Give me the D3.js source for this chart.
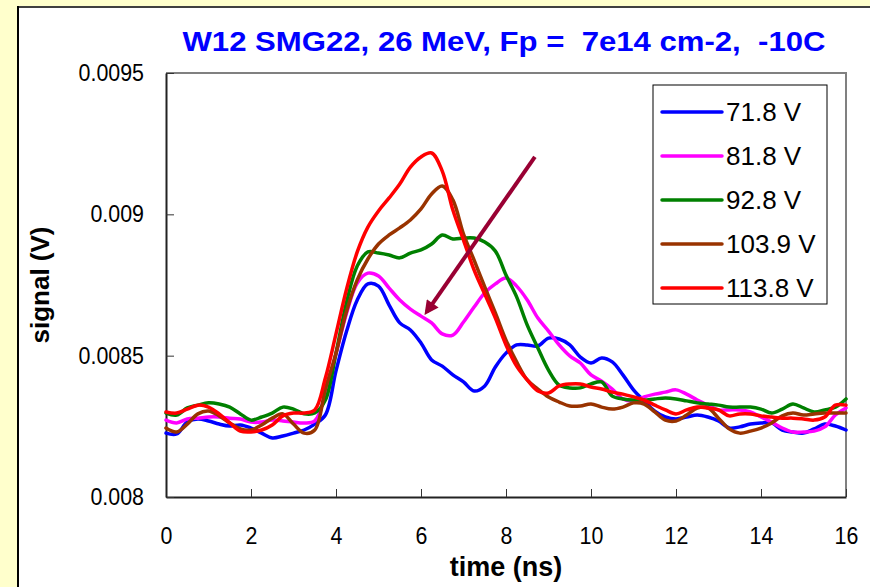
<!DOCTYPE html>
<html lang="en">
<head>
<meta charset="UTF-8">
<title>W12 SMG22 signal vs time</title>
<style>
  body { margin: 0; background: #FFFFCC; }
  svg { display: block; font-family: Arial, "Liberation Sans", sans-serif; }
</style>
</head>
<body>
<script src="https://cdn.jsdelivr.net/npm/d3@7"></script>
<script>
    const width = 870, height = 587;
    const margin = ({top: 73, right: 24, bottom: 90, left: 166});

    const title = "W12 SMG22, 26 MeV, Fp =  7e14 cm-2,  -10C";
    const seriesNames = ["71.8 V", "81.8 V", "92.8 V", "103.9 V", "113.8 V"];
    const colors = ["#0000FF", "#FF00FF", "#008000", "#993300", "#FF0000"];
    const xTicks = [0, 2, 4, 6, 8, 10, 12, 14, 16];
    const yTicks = [0.008, 0.0085, 0.009, 0.0095];

    // sampled every 0.25 ns, 0 .. 16 ns
    const time = d3.range(0, 16.001, 0.25);

    const v718 = [0.008226,0.008223,0.008265,0.008276,0.008269,0.008258,0.008251,0.008255,0.008244,0.008226,0.008209,0.008216,0.008226,0.008237,0.008258,0.008290,
        0.008446,0.008587,0.008697,0.008754,0.008746,0.008679,0.008616,0.008591,0.008545,0.008485,0.008463,0.008432,0.008407,0.008375,0.008393,0.008460,
        0.008509,0.008538,0.008538,0.008534,0.008562,0.008559,0.008538,0.008495,0.008474,0.008492,0.008478,0.008432,0.008379,0.008340,0.008304,0.008283,
        0.008276,0.008283,0.008290,0.008283,0.008269,0.008244,0.008248,0.008258,0.008262,0.008262,0.008237,0.008230,0.008226,0.008241,0.008258,0.008251,0.008237];
    const v818 = [0.008272,0.008262,0.008276,0.008279,0.008283,0.008283,0.008279,0.008276,0.008265,0.008265,0.008272,0.008269,0.008265,0.008262,0.008269,0.008364,
        0.008506,0.008651,0.008757,0.008792,0.008782,0.008739,0.008697,0.008665,0.008640,0.008616,0.008577,0.008573,0.008619,0.008672,0.008722,0.008754,
        0.008775,0.008746,0.008697,0.008633,0.008587,0.008538,0.008499,0.008474,0.008432,0.008410,0.008382,0.008347,0.008340,0.008354,0.008364,0.008371,
        0.008379,0.008364,0.008343,0.008325,0.008308,0.008308,0.008308,0.008301,0.008283,0.008265,0.008244,0.008230,0.008230,0.008233,0.008248,0.008290,0.008315];
    const v928 = [0.008297,0.008290,0.008315,0.008325,0.008333,0.008329,0.008318,0.008294,0.008272,0.008283,0.008297,0.008318,0.008311,0.008294,0.008297,0.008343,
        0.008509,0.008690,0.008817,0.008867,0.008863,0.008856,0.008846,0.008863,0.008874,0.008895,0.008927,0.008913,0.008916,0.008916,0.008902,0.008870,
        0.008785,0.008708,0.008608,0.008527,0.008449,0.008396,0.008386,0.008386,0.008400,0.008407,0.008357,0.008347,0.008343,0.008343,0.008347,0.008350,
        0.008347,0.008340,0.008333,0.008329,0.008325,0.008318,0.008318,0.008318,0.008311,0.008297,0.008311,0.008329,0.008315,0.008301,0.008308,0.008318,0.008347];
    const v1039 = [0.008244,0.008230,0.008258,0.008294,0.008304,0.008287,0.008262,0.008241,0.008237,0.008255,0.008279,0.008294,0.008258,0.008226,0.008237,0.008382,
        0.008509,0.008658,0.008768,0.008842,0.008895,0.008927,0.008952,0.008980,0.009019,0.009072,0.009100,0.009051,0.008930,0.008838,0.008743,0.008651,
        0.008555,0.008478,0.008414,0.008382,0.008354,0.008336,0.008322,0.008322,0.008329,0.008318,0.008311,0.008318,0.008333,0.008329,0.008301,0.008272,
        0.008269,0.008290,0.008315,0.008315,0.008279,0.008241,0.008226,0.008233,0.008244,0.008262,0.008287,0.008297,0.008290,0.008294,0.008297,0.008297,0.008297];
    const v1138 = [0.008301,0.008297,0.008311,0.008325,0.008318,0.008294,0.008262,0.008233,0.008230,0.008237,0.008255,0.008287,0.008297,0.008297,0.008308,0.008421,
        0.008577,0.008736,0.008867,0.008955,0.009012,0.009058,0.009107,0.009167,0.009203,0.009217,0.009153,0.009015,0.008909,0.008803,0.008718,0.008633,
        0.008538,0.008463,0.008414,0.008375,0.008368,0.008393,0.008400,0.008400,0.008389,0.008382,0.008371,0.008364,0.008354,0.008343,0.008325,0.008308,
        0.008294,0.008308,0.008318,0.008315,0.008308,0.008287,0.008294,0.008294,0.008287,0.008283,0.008279,0.008279,0.008276,0.008272,0.008283,0.008325,0.008325];
    const values = [v718, v818, v928, v1039, v1138];

    // arrow annotation, in data units: [time, signal]
    const arrowFrom = [8.68, 0.009203];
    const arrowTo = [6.14, 0.008656];

    const x = d3.scaleLinear()
        .domain([0, 16])
        .range([margin.left, width - margin.right]);

    const y = d3.scaleLinear()
        .domain([0.008, 0.0095])
        .range([height - margin.bottom, margin.top]);

    const svg = d3.select("body")
        .append("svg")
        .attr("width", width)
        .attr("height", height)
        .attr("viewBox", [0, 0, width, height]);

    // yellow slide background and white chart panel
    svg.append("rect").attr("width", width).attr("height", height).attr("fill", "#FFFFCC");
    svg.append("rect").attr("x", 18).attr("y", 7).attr("width", width - 18).attr("height", height - 7).attr("fill", "#fff");
    svg.append("line").attr("x1", 18).attr("x2", width).attr("y1", 7).attr("y2", 7).attr("stroke", "#404040").attr("stroke-width", 2);
    svg.append("line").attr("x1", 18).attr("x2", 18).attr("y1", 6).attr("y2", height).attr("stroke", "#000").attr("stroke-width", 2);

    // plot frame: grey top/right, dark axes left/bottom
    svg.append("path")
        .attr("d", `M${x(0)},${y(0.0095)}H${x(16)}V${y(0.008)}`)
        .attr("fill", "none").attr("stroke", "#808080").attr("stroke-width", 2);

    // slightly narrow, tall tick labels like the original slide
    const squeeze = (sel, k) => sel.each(function() {
        d3.select(this)
            .attr("textLength", this.getComputedTextLength() * k)
            .attr("lengthAdjust", "spacingAndGlyphs");
    });

    const xAxis = g => g
        .attr("transform", `translate(0,${y(0.008)})`)
        .style("font", "23px Arial")
        .call(d3.axisBottom(x).tickValues(xTicks).tickSize(-8).tickPadding(31).tickSizeOuter(0))
        .call(g => g.select(".domain").attr("stroke", "#222").attr("stroke-width", 2))
        .call(g => g.selectAll(".tick line").attr("stroke", "#333"))
        .call(g => g.selectAll(".tick text").attr("fill", "#000"));

    const yAxis = g => g
        .attr("transform", `translate(${x(0)},0)`)
        .style("font", "23px Arial")
        .call(d3.axisLeft(y).tickValues(yTicks).tickSize(-8).tickPadding(22).tickSizeOuter(0)
            .tickFormat(d => String(+d.toFixed(4))))
        .call(g => g.select(".domain").attr("stroke", "#222").attr("stroke-width", 2))
        .call(g => g.selectAll(".tick line").attr("stroke", "#333"))
        .call(g => g.selectAll(".tick text").attr("fill", "#000"));

    svg.append("g").call(xAxis).selectAll(".tick text").call(squeeze, 0.93);
    svg.append("g").call(yAxis).selectAll(".tick text").call(squeeze, 0.93);

    const line = d3.line()
        .curve(d3.curveCatmullRom)
        .x((d, i) => x(time[i]))
        .y(d => y(d));

    svg.append("g")
        .attr("fill", "none")
        .attr("stroke-width", 3.5)
        .attr("stroke-linejoin", "round")
        .attr("stroke-linecap", "round")
        .selectAll("path")
        .data(values)
        .join("path")
        .attr("stroke", (d, i) => colors[i])
        .attr("d", line);

    // arrow
    svg.append("defs").append("marker")
        .attr("id", "head")
        .attr("viewBox", "0 0 10 10")
        .attr("refX", 7).attr("refY", 5)
        .attr("markerWidth", 4.5).attr("markerHeight", 3.6)
        .attr("orient", "auto")
        .append("path")
        .attr("d", "M0,0L10,5L0,10z")
        .attr("fill", "#990033");

    svg.append("line")
        .attr("x1", x(arrowFrom[0])).attr("y1", y(arrowFrom[1]))
        .attr("x2", x(arrowTo[0])).attr("y2", y(arrowTo[1]))
        .attr("stroke", "#990033")
        .attr("stroke-width", 4)
        .attr("marker-end", "url(#head)");

    // legend
    const legend = svg.append("g").attr("transform", "translate(653,85)");
    legend.append("rect")
        .attr("width", 174).attr("height", 219)
        .attr("fill", "#fff").attr("stroke", "#000").attr("stroke-width", 1);
    const item = legend.selectAll("g")
        .data(seriesNames)
        .join("g")
        .attr("transform", (d, i) => `translate(0,${27 + i * 44})`);
    item.append("line")
        .attr("x1", 9).attr("x2", 69)
        .attr("stroke", (d, i) => colors[i])
        .attr("stroke-width", 3.5).attr("stroke-linecap", "round");
    item.append("text")
        .attr("x", 73).attr("dy", "0.35em")
        .style("font", "26px Arial")
        .text(d => d);

    // titles
    svg.append("text")
        .attr("x", 504).attr("y", 51)
        .attr("text-anchor", "middle")
        .style("font", "bold 28px Arial")
        .style("white-space", "pre")
        .attr("textLength", 643)
        .attr("lengthAdjust", "spacingAndGlyphs")
        .attr("fill", "#0000FF")
        .text(title);

    svg.append("text")
        .attr("x", x(8)).attr("y", 576)
        .attr("text-anchor", "middle")
        .style("font", "bold 27px Arial")
        .text("time (ns)");

    svg.append("text")
        .attr("transform", `translate(49,${(y(0.008) + y(0.0095)) / 2}) rotate(-90)`)
        .attr("text-anchor", "middle")
        .style("font", "bold 26px Arial")
        .text("signal (V)");
</script>
</body>
</html>
